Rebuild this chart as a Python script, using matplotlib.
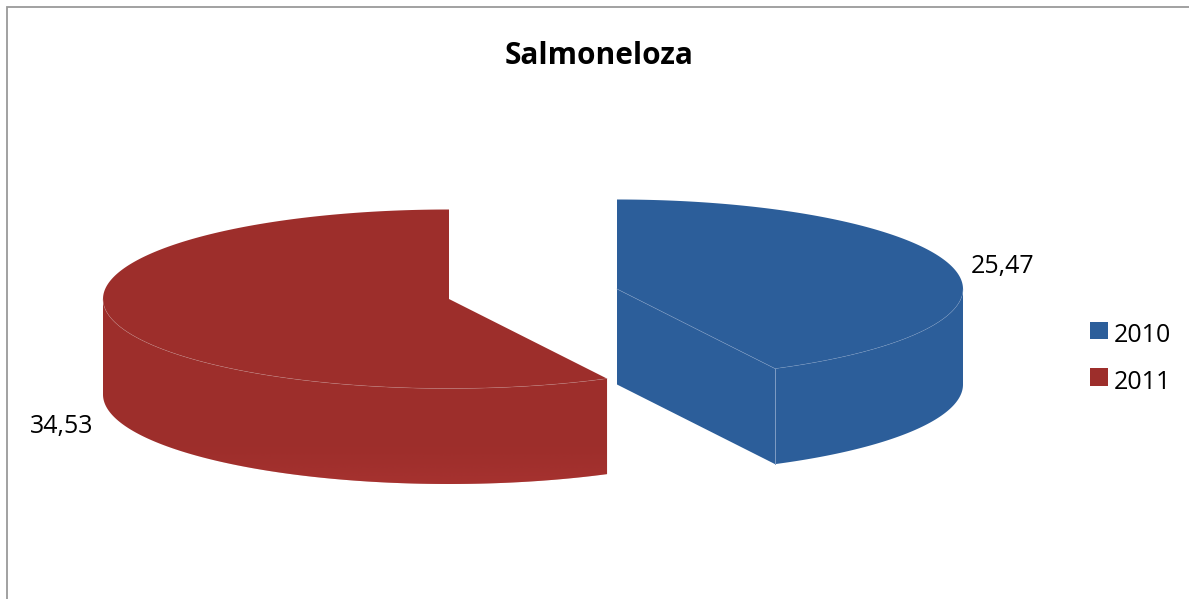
import numpy as np
import matplotlib
matplotlib.use("Agg")
import matplotlib.pyplot as plt
from matplotlib.patches import Polygon, Patch

title = "Salmoneloza"
years = ["2010", "2011"]
values = [25.47, 34.53]
value_labels = ["25,47", "34,53"]
colors = ["#2C5E9A", "#9D2E2B"]
rim_colors = ["#7F9CC4", "#C08A88"]

plt.rcParams["font.family"] = ["Open Sans", "DejaVu Sans"]

W, H = 1189, 599
fig = plt.figure(figsize=(W / 100, H / 100), dpi=100)
ax = fig.add_axes([0, 0, 1, 1])
ax.set_xlim(0, W)
ax.set_ylim(H, 0)
ax.axis("off")

RX, RY, DEPTH = 346, 89.5, 95.5
centers = [(617, 289), (449, 299)]


def rim(c, t0, t1, n=200):
    t = np.radians(np.linspace(t0, t1, n))
    return np.column_stack([c[0] + RX * np.cos(t), c[1] - RY * np.sin(t)])


# chart frame
ax.plot([7, 7, W], [H, 7, 7], color="#9A9A9A", lw=1.3, solid_joinstyle="miter", zorder=1)

total = sum(values)
start = 90.0
for i, (v, col, c, light) in enumerate(zip(values, colors, centers, rim_colors)):
    end = start - v / total * 360
    top = rim(c, start, end)
    # the wall is the part of the rim on the front half of the ellipse
    front = rim(c, 0, end) if i == 0 else rim(c, start, -180)
    wall = np.vstack([front, (front + [0, DEPTH])[::-1]])
    wall_patch = Polygon(wall, closed=True, fc=col, ec="none", zorder=2)
    ax.add_patch(wall_patch)
    p_end = rim(c, end, end, 1)[0]
    if i == 0:
        # exposed cut face of the blue slice
        face = np.array([c, p_end, p_end + [0, DEPTH], [c[0], c[1] + DEPTH]])
        ax.add_patch(Polygon(face, closed=True, fc=col, ec="none", zorder=2))
        ax.plot([p_end[0]] * 2, [p_end[1], p_end[1] + DEPTH], color=light, lw=0.7, zorder=4)
        ax.plot([c[0], p_end[0]], [c[1], p_end[1]], color=light, lw=0.5, alpha=0.7, zorder=4)
    else:
        # the red wall brightens slightly toward its lower edge
        y0 = c[1] + RY
        rgba = np.zeros((64, 2, 4))
        rgba[..., :3] = matplotlib.colors.to_rgb("#B83A38")
        rgba[..., 3] = np.linspace(0, 0.6, 64)[:, None] ** 2
        im = ax.imshow(rgba, extent=(c[0] - RX, c[0] + RX, y0 + DEPTH, y0 + 40), aspect="auto",
                       origin="upper", zorder=2.5)
        im.set_clip_path(wall_patch)
        ax.set_xlim(0, W)
        ax.set_ylim(H, 0)
    wedge = np.vstack([[c], top])
    ax.add_patch(Polygon(wedge, closed=True, fc=col, ec="none", zorder=3))
    ax.plot(front[:, 0], front[:, 1], color=light, lw=0.4, alpha=0.6, zorder=4)
    start = end

ax.text(599.5, 56, title, ha="center", va="center", fontsize=21.5, fontweight="bold", color="#000000")
ax.text(971, 266, value_labels[0], ha="left", va="center", fontsize=18, color="#000000")
ax.text(30, 427, value_labels[1], ha="left", va="center", fontsize=18, color="#000000")

handles = [Patch(fc=c, ec="none", label=y) for c, y in zip(colors, years)]
leg = ax.legend(handles=handles, loc="center left", bbox_to_anchor=(1090, 356), bbox_transform=ax.transData,
                frameon=False, fontsize=18, handlelength=0.71, handleheight=0.71, handletextpad=0.25,
                labelspacing=0.87, borderpad=0, borderaxespad=0)
for t in leg.get_texts():
    t.set_y(-3)

fig.savefig("out.png", dpi=100)
